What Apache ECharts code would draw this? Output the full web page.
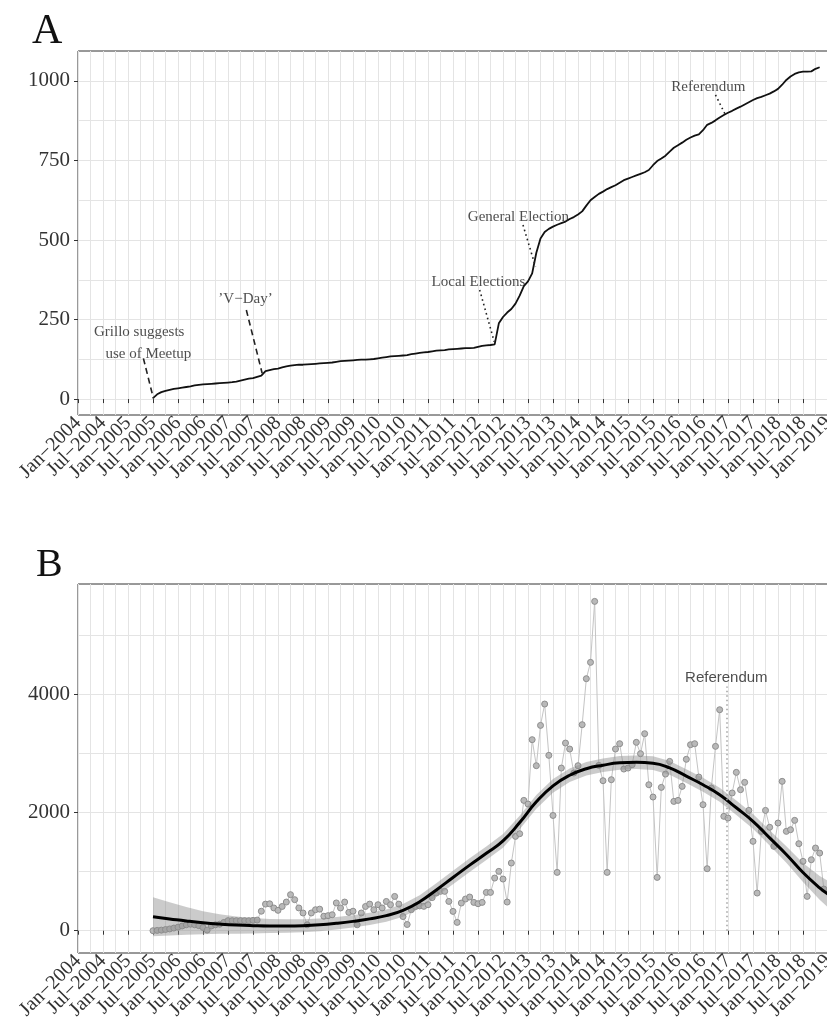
<!DOCTYPE html>
<html>
<head>
<meta charset="utf-8">
<script src="https://cdn.jsdelivr.net/npm/echarts@6/dist/echarts.min.js"></script>
<style>
  html, body { margin: 0; padding: 0; background: #fff; }
  #chart { width: 827px; height: 1035px; }
</style>
</head>
<body>
<div id="chart"></div>
<script>
// months are counted from Jan-2004 (0 = Jan-2004)
const monthNames = ["Jan", "Feb", "Mar", "Apr", "May", "Jun", "Jul", "Aug", "Sep", "Oct", "Nov", "Dec"];
const firstYear = 2004;
const firstMonth = 18; // Jul-2005, first month with data
const lastTickMonth = 180; // Jan-2019

// panel A: cumulative number of groups, monthly from Jul-2005
const groupsTotal = [
  3, 15, 22, 26, 29, 32, 34, 36, 38, 40,
  43, 45, 46, 47, 48, 49, 50, 51, 52, 53,
  55, 58, 61, 64, 66, 70, 74, 88, 91, 94,
  96, 100, 103, 105, 107, 108, 108, 109, 110, 111,
  112, 113, 114, 115, 117, 119, 120, 121, 122, 123,
  124, 124, 125, 126, 128, 130, 132, 134, 135, 136,
  137, 138, 141, 143, 145, 147, 148, 150, 152, 153,
  154, 156, 157, 158, 159, 160, 160, 161, 164, 167,
  169, 170, 172, 238, 258, 272, 283, 300, 325, 355,
  370, 395, 460, 505, 525, 535, 542, 548, 553, 558,
  566, 572, 580, 590, 608, 625, 635, 645, 652, 660,
  666, 672, 680, 688, 693, 698, 703, 708, 713, 720,
  735, 748, 756, 765, 778, 790, 798, 806, 815, 822,
  828, 832, 845, 862, 868, 876, 885, 893, 900, 906,
  913, 919, 926, 933, 940, 946, 950, 955, 960, 967,
  975, 988, 1003, 1014, 1022, 1027, 1029, 1029, 1030, 1038,
  1043
];

// panel B: monthly values from Jul-2005
const monthlyCount = [
  0, 5, 10, 20, 30, 45, 60, 80, 100, 110,
  100, 85, 55, 10, 80, 100, 110, 140, 170, 170,
  170, 170, 170, 170, 175, 180, 330, 450, 455, 385,
  345, 410, 485, 610, 525, 385, 300, 100, 300, 355,
  365, 245, 255, 270, 470, 385, 485, 310, 330, 100,
  300, 410, 450, 355, 440, 385, 495, 440, 580, 450,
  240, 105, 355, 410, 420, 412, 440, 560, 637, 666,
  666, 496, 327, 141, 468, 536, 570, 479, 457, 479,
  648, 648, 891, 1004, 874, 485, 1145, 1596, 1641, 2205,
  2143, 3232, 2792, 3474, 3835, 2967, 1950, 987, 2752, 3175,
  3074, 2668, 2792, 3486, 4264, 4540, 5572, 2797, 2538, 987,
  2555, 3074, 3164, 2735, 2752, 2809, 3187, 2995, 3333, 2470,
  2262, 902, 2425, 2650, 2865, 2188, 2205, 2442, 2900, 3147,
  3164, 2600, 2132, 1049, 2414, 3119, 3739, 1935, 1906, 2330,
  2679, 2386, 2510, 2036, 1512, 637, 1681, 2036, 1750, 1427,
  1822, 2527, 1681, 1709, 1867, 1472, 1173, 581, 1201, 1399,
  1314, 705
];

// panel B: smoothed trend and its confidence band
const smoothMonths = [18, 22, 26, 30, 34, 38, 42, 46, 50, 54, 58, 62, 66, 70, 74, 78, 82, 86, 90, 94, 98,
  102, 106, 110, 114, 118, 122, 126, 130, 134, 138, 142, 146, 150, 154, 158, 162, 166, 170, 174, 178, 180];
const smoothValues = [235, 200, 165, 135, 112, 95, 85, 80, 80, 85, 100, 125, 158, 200, 255, 345, 490, 690, 900, 1110, 1310,
  1520, 1830, 2180, 2450, 2630, 2740, 2800, 2840, 2850, 2835, 2755, 2615, 2470, 2300, 2080, 1850, 1570, 1290, 985, 725, 620];
const bandUpper = [565, 480, 400, 330, 277, 240, 215, 200, 195, 195, 208, 230, 263, 305, 360, 453, 600, 802, 1015, 1225, 1425,
  1635, 1945, 2295, 2565, 2745, 2855, 2915, 2955, 2965, 2950, 2870, 2730, 2588, 2420, 2202, 1975, 1700, 1430, 1145, 925, 845];
const bandLower = [-95, -80, -70, -60, -53, -50, -45, -40, -35, -25, -8, 20, 53, 95, 150, 237, 380, 578, 785, 995, 1195,
  1405, 1715, 2065, 2335, 2515, 2625, 2685, 2725, 2735, 2720, 2640, 2500, 2352, 2180, 1958, 1725, 1440, 1150, 825, 525, 395];

const yTicksA = [0, 250, 500, 750, 1000];
const yMinorA = [125, 375, 625, 875];
const yTicksB = [0, 2000, 4000];
const yMinorB = [1000, 3000, 5000];

// annotations (data coordinates)
const eventLabels = ["Grillo suggests", "use of Meetup", "\u2019V\u2212Day\u2019", "Local Elections", "General Election", "Referendum"];
const eventLabelAt = [[14.7, 211], [16.9, 141], [40.2, 314], [96.1, 369], [105.7, 571], [151.3, 980]];
const eventPointers = [
  { from: [15.7, 128], to: [18.1, 2], dashed: true },
  { from: [40.4, 280], to: [44.2, 81], dashed: true },
  { from: [96.4, 343], to: [99.9, 180] },
  { from: [106.8, 547], to: [109.8, 416] },
  { from: [153.0, 956], to: [155.4, 893] }
];
const referendumMonth = 155.6;
const referendumLabelAt = [155.6, 4276];
const referendumLineTop = 4130;

const serif = "Liberation Serif";
const sans = "Liberation Sans";
const gridColor = "#e4e4e4";
const xLabelStyle = { rotate: 45, margin: 5, fontFamily: serif, fontSize: 20, color: "#333" };

function monthLabel(v) {
  return monthNames[v % 12] + "\u2212" + (firstYear + Math.floor(v / 12));
}

// main x axis: inner ticks/labels + grid lines; the end labels come from a second axis
// so that echarts does not drop the crowded neighbours of the first/last label
function xAxesFor(gridIndex) {
  return [
    {
      type: "value", gridIndex: gridIndex, min: 0, max: lastTickMonth, interval: 6,
      axisLine: { show: false },
      axisTick: { show: true, length: 4, lineStyle: { color: "#333", width: 1 } },
      axisLabel: Object.assign({ formatter: monthLabel, showMinLabel: false, showMaxLabel: false }, xLabelStyle),
      splitLine: { show: true, lineStyle: { color: gridColor, width: 1 } },
      minorTick: { show: false, splitNumber: 2 },
      minorSplitLine: { show: true, lineStyle: { color: gridColor, width: 1 } }
    },
    {
      type: "value", gridIndex: gridIndex, min: 0, max: lastTickMonth, position: "bottom",
      axisLine: { show: false },
      axisTick: { show: true, length: 4, customValues: [0, lastTickMonth], lineStyle: { color: "#333", width: 1 } },
      axisLabel: Object.assign({ formatter: monthLabel, customValues: [0, lastTickMonth] }, xLabelStyle),
      splitLine: { show: false }
    }
  ];
}

function yAxesFor(gridIndex, min, max, major, minor) {
  return [
    {
      type: "value", gridIndex: gridIndex, min: min, max: max,
      axisLine: { show: false },
      axisTick: { show: true, length: 4, customValues: major, lineStyle: { color: "#333" } },
      axisLabel: {
        customValues: major, fontFamily: serif, fontSize: 21, color: "#333", margin: 8,
        formatter: v => String(v)
      },
      splitLine: { show: true, lineStyle: { color: gridColor, width: 1 } }
    },
    {
      type: "value", gridIndex: gridIndex, min: min, max: max,
      axisLine: { show: false },
      axisTick: { show: true, length: 0, customValues: minor },
      axisLabel: { show: false },
      splitLine: { show: true, lineStyle: { color: gridColor, width: 1 } }
    }
  ];
}

const chart = echarts.init(document.getElementById("chart"), null, { renderer: "canvas" });

const option = {
  animation: false,
  backgroundColor: "#fff",
  title: [
    { text: "A", left: 27, top: 6, textStyle: { fontFamily: serif, fontSize: 42, fontWeight: "normal", color: "#111" } },
    { text: "B", left: 31, top: 540, textStyle: { fontFamily: serif, fontSize: 40, fontWeight: "normal", color: "#111" } }
  ],
  grid: [
    { left: 78, top: 51, width: 750, height: 364, show: true, borderColor: "#333", borderWidth: 1, outerBoundsMode: "none" },
    { left: 78, top: 584, width: 750, height: 369, show: true, borderColor: "#333", borderWidth: 1, outerBoundsMode: "none" }
  ],
  xAxis: xAxesFor(0).concat(xAxesFor(1)),
  yAxis: yAxesFor(0, -50, 1094, yTicksA, yMinorA).concat(yAxesFor(1, -377, 5866, yTicksB, yMinorB)),
  series: [
    {
      name: "groups",
      type: "line",
      xAxisIndex: 0, yAxisIndex: 0,
      data: groupsTotal.map((v, i) => [firstMonth + i, v]),
      symbol: "none",
      lineStyle: { color: "#111", width: 1.8 },
      z: 3,
      markLine: {
        silent: true,
        symbol: ["none", "none"],
        label: { show: false },
        data: eventPointers.map(p => [
          { coord: p.from, lineStyle: { color: "#222", width: 1.6, type: p.dashed ? [6, 4] : [1.6, 3.2] } },
          { coord: p.to }
        ])
      }
    },
    {
      name: "eventLabels",
      type: "scatter",
      xAxisIndex: 0, yAxisIndex: 0,
      symbol: "circle", symbolSize: 1,
      itemStyle: { color: "rgba(0,0,0,0)" },
      data: eventLabels.map((t, i) => ({ name: t, value: eventLabelAt[i] })),
      label: {
        show: true, position: "inside", formatter: p => p.name,
        fontFamily: serif, fontSize: 15, color: "#222"
      },
      z: 4
    },
    {
      name: "monthly",
      type: "line",
      xAxisIndex: 2, yAxisIndex: 2,
      data: monthlyCount.map((v, i) => [firstMonth + i, v]),
      symbol: "circle", symbolSize: 6, showSymbol: true,
      itemStyle: { color: "#b9b9b9", borderColor: "#8e8e8e", borderWidth: 1 },
      lineStyle: { color: "#c4c4c4", width: 1 },
      z: 2,
      markLine: {
        silent: true,
        symbol: ["none", "none"],
        label: { show: false },
        data: [[
          { coord: [referendumMonth, 0], lineStyle: { color: "#a0a0a0", width: 1.5, type: [1.5, 3] } },
          { coord: [referendumMonth, referendumLineTop] }
        ]]
      }
    },
    {
      name: "band",
      type: "custom",
      xAxisIndex: 2, yAxisIndex: 2,
      clip: true,
      data: [[smoothMonths[0], bandLower[0]]],
      renderItem: function (params, api) {
        const up = smoothMonths.map((m, i) => api.coord([m, bandUpper[i]]));
        const lo = smoothMonths.map((m, i) => api.coord([m, bandLower[i]])).reverse();
        return {
          type: "polygon",
          shape: { points: up.concat(lo) },
          style: { fill: "rgba(140,140,140,0.45)" },
          silent: true
        };
      },
      z: 3
    },
    {
      name: "trend",
      type: "line",
      xAxisIndex: 2, yAxisIndex: 2,
      data: smoothMonths.map((m, i) => [m, smoothValues[i]]),
      smooth: true,
      symbol: "none",
      lineStyle: { color: "#000", width: 3 },
      z: 4
    },
    {
      name: "referendumLabel",
      type: "scatter",
      xAxisIndex: 2, yAxisIndex: 2,
      symbol: "circle", symbolSize: 1,
      itemStyle: { color: "rgba(0,0,0,0)" },
      data: [{ name: "Referendum", value: referendumLabelAt }],
      label: {
        show: true, position: "inside", formatter: p => p.name,
        fontFamily: sans, fontSize: 15, color: "#222"
      },
      z: 5
    }
  ]
};

chart.setOption(option);
</script>
</body>
</html>
